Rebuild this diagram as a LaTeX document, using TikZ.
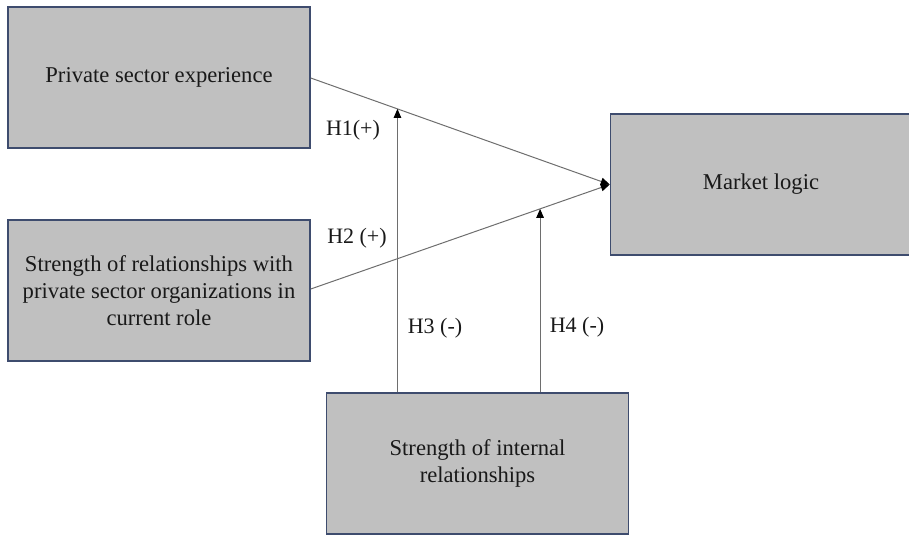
\documentclass[tikz,border=0pt]{standalone}
\usepackage{fontspec}
\setmainfont{Liberation Serif}
\usetikzlibrary{arrows.meta,calc}
\definecolor{boxborder}{RGB}{62,76,110}
\definecolor{boxfill}{RGB}{192,192,192}
\definecolor{linegray}{RGB}{110,110,110}
\tikzset{
  varbox/.style={draw=boxborder, line width=1.5pt, fill=boxfill, minimum width=302pt, minimum height=141pt, inner sep=0pt, align=center, font=\fontsize{22.6pt}{26.8pt}\selectfont, text=black!90},
  hyp/.style={font=\fontsize{22pt}{26pt}\selectfont, text=black!90, inner sep=0pt},
  arr/.style={draw=linegray, line width=1pt, -{Triangle[length=9pt,width=7.5pt,color=black,fill=black]}}
}
\begin{document}
\begin{tikzpicture}[x=1pt,y=-1pt]
\useasboundingbox (0,0) rectangle (909,536);
\node[varbox] (pse) at (159,77.5) {Private sector experience};
\node[varbox] (srp) at (159,290.5) {Strength of relationships with\\private sector organizations in\\current role};
\node[varbox, minimum width=301pt] (ml) at (761,184.5) {Market logic};
\node[varbox] (sir) at (477.5,463.5) {Strength of internal\\relationships};
\coordinate (s1) at (pse.east |- 0,78);
\coordinate (s2) at (srp.east |- 0,289);
\draw[arr] (s1) -- (ml.west);
\draw[arr] (s2) -- (ml.west);
\coordinate (h1) at ($(s1)!0.29!(ml.west)$);
\coordinate (h4) at ($(s2)!0.767!(ml.west)$);
\draw[arr] (h1 |- sir.north) -- (h1);
\draw[arr] (h4 |- sir.north) -- (h4);
\node[hyp] (l1) at (353,130) {H1(+)};
\node[hyp] (l2) at (357,238) {H2 (+)};
\node[hyp] (l3) at (435,328) {H3 (-)};
\node[hyp] (l4) at (577,327) {H4 (-)};
\end{tikzpicture}
\end{document}
